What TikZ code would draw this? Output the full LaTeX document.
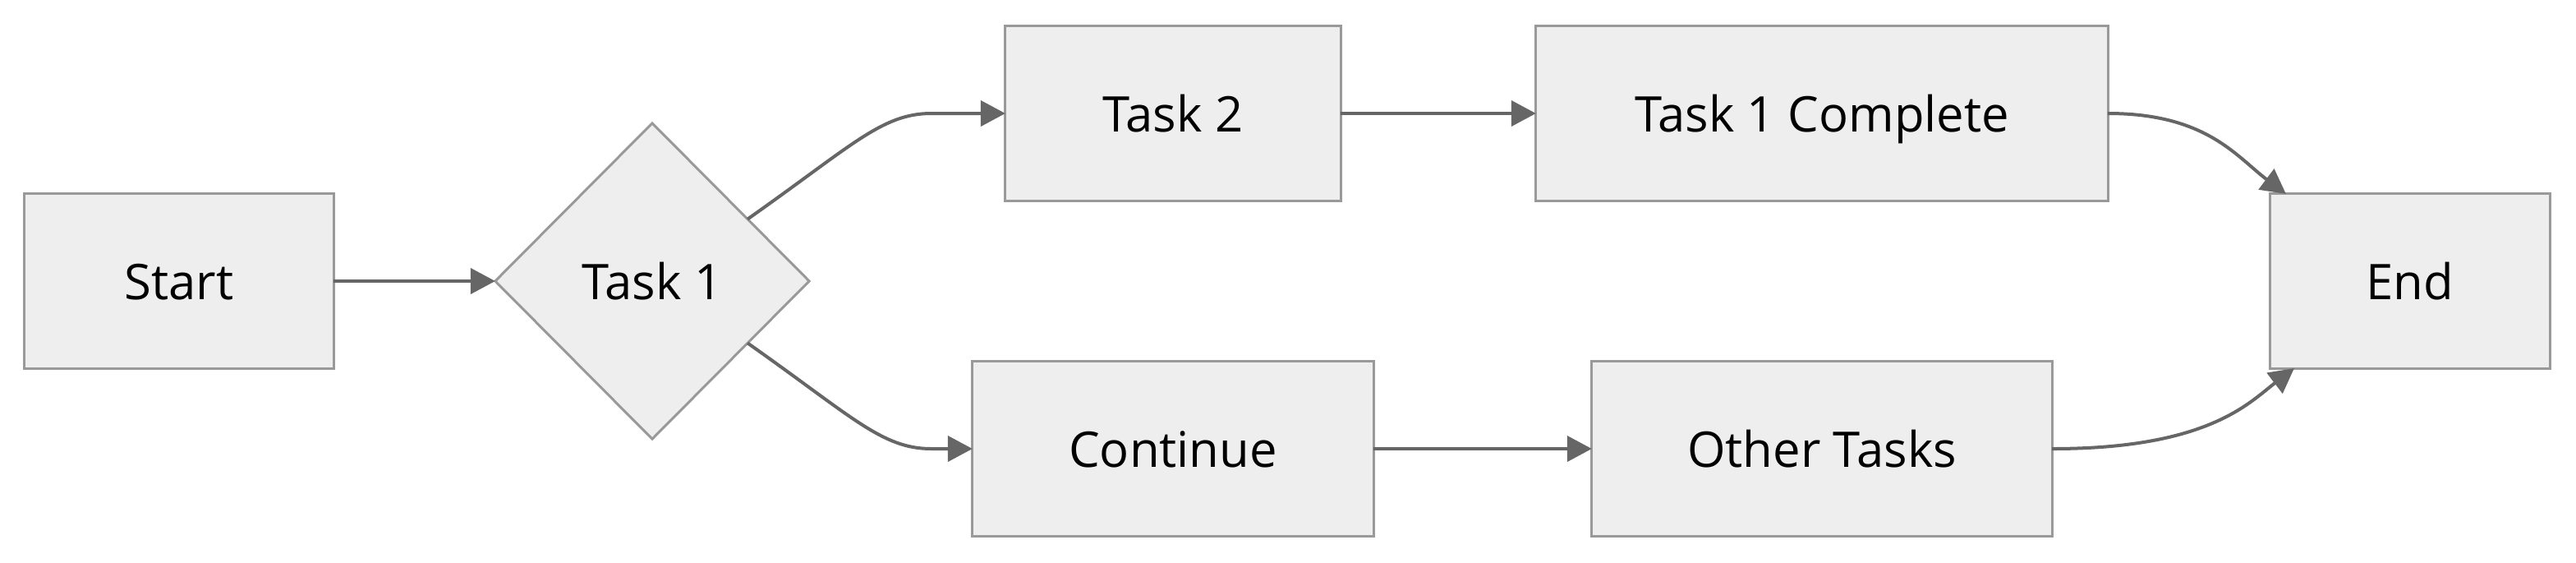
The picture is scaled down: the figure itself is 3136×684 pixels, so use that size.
\documentclass[tikz,border=0pt]{standalone}
\usepackage{fontspec}
\setmainfont{Open Sans}
\usetikzlibrary{shapes.geometric,arrows.meta,calc}
\definecolor{nodefill}{HTML}{EEEEEE}
\definecolor{nodeline}{HTML}{999999}
\definecolor{edgecol}{HTML}{666666}
\begin{document}
\begin{tikzpicture}[x=0.01cm,y=-0.01cm,
  txt/.style={font=\fontsize{17}{21}\selectfont,text=black,text height=0.44cm,text depth=0pt},
  box/.style={txt,draw=nodeline,fill=nodefill,line width=0.03cm,inner sep=0pt,outer sep=0pt,
    minimum height=2.12cm},
  dia/.style={txt,diamond,draw=nodeline,fill=nodefill,line width=0.03cm,inner sep=0pt,outer sep=0pt,
    minimum width=3.82cm,minimum height=3.84cm},
  edge/.style={draw=edgecol,line width=0.04cm,-{Triangle[length=0.3cm,width=0.31cm]}}]
\useasboundingbox (0,0) rectangle (3136,684);
\node[box,minimum width=3.76cm] (s) at (218,342) {Start};
\node[dia] (t1) at (794,342) {Task 1};
\node[box,minimum width=4.08cm] (t2) at (1428,138) {Task 2};
\node[box,minimum width=6.96cm] (tc) at (2218,138) {Task 1 Complete};
\node[box,minimum width=4.88cm] (co) at (1428,546) {Continue};
\node[box,minimum width=5.60cm] (ot) at (2218,546) {Other Tasks};
\node[box,minimum width=3.40cm] (en) at (2934,342) {End};
\draw[edge] (s.east) -- (t1.west);
\draw[edge] (t1.33) .. controls +(128,-90) and +(-60,0) .. ([xshift=-0.9cm]t2.west) -- (t2.west);
\draw[edge] (t1.-33) .. controls +(128,90) and +(-60,0) .. ([xshift=-0.5cm]co.west) -- (co.west);
\draw[edge] (t2.east) -- (tc.west);
\draw[edge] (co.east) -- (ot.west);
\draw[edge] (tc.east) .. controls +(120,0) and +(-60,-45) .. ([xshift=0.19cm]en.north west);
\draw[edge] (ot.east) .. controls +(190,0) and +(-55,42) .. ([xshift=0.29cm]en.south west);
\end{tikzpicture}
\end{document}
